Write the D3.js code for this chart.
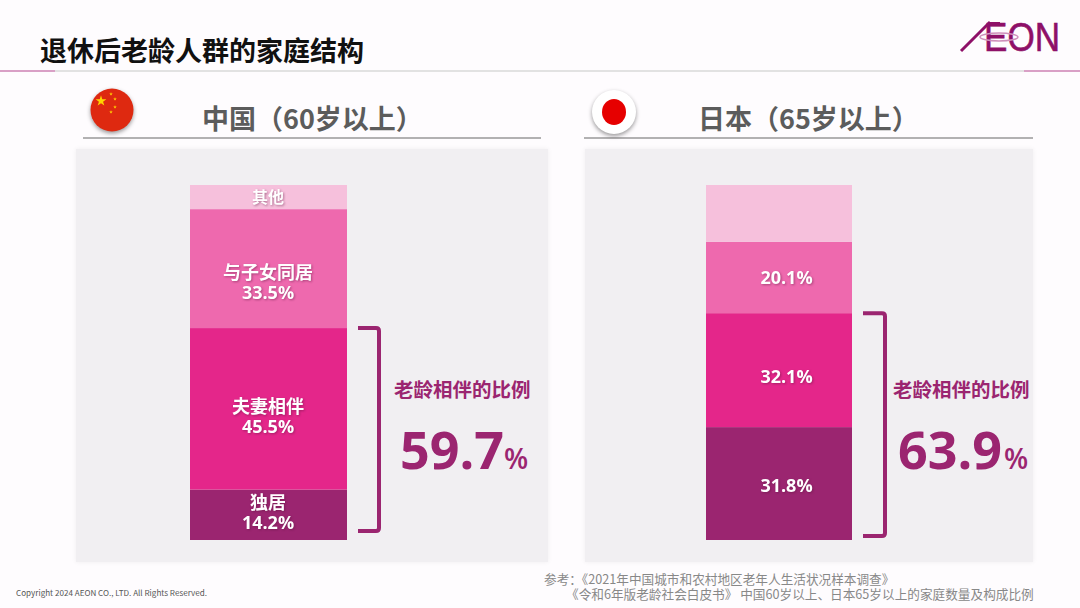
<!DOCTYPE html>
<html>
<head>
<meta charset="utf-8">
<script src="https://cdn.jsdelivr.net/npm/d3@7"></script>
<style>
  html, body { margin: 0; padding: 0; background: #fefcfe; }
  svg { display: block; }
  text { font-family: "Noto Sans CJK SC", "Open Sans", sans-serif; }
  .num { font-family: "Open Sans", "Noto Sans CJK SC", sans-serif; }
  .seg-label { fill: #fff; font-weight: 700; text-anchor: middle; filter: drop-shadow(1px 1px 1px rgba(90,20,60,.45)); }
</style>
</head>
<body>
<svg id="chart" width="1080" height="608"></svg>
<script>
// Data
const categories = ["独居", "夫妻相伴", "与子女同居", "其他"];
const chinaValues = [14.2, 45.5, 33.5, 6.8];
const japanValues = [31.8, 32.1, 20.1, 16.0];
const chinaNames = ["独居", "夫妻相伴", "与子女同居", "其他"];
const japanNames = ["", "", "", ""];
const chinaShown = ["14.2%", "45.5%", "33.5%", ""];
const japanShown = ["31.8%", "32.1%", "20.1%", ""];
const segColors = ["#9b2570", "#e4268a", "#ee69ae", "#f6c0dc"];
const accent = "#9b2570";

const svg = d3.select("#chart");

class StackedBar {

  constructor(_config, _values, _names, _shown) {
    this.config = _config;
    this.values = _values;
    this.names = _names;
    this.shown = _shown;
    this.initVis();
  }

  initVis() {
    let vis = this;
    let c = vis.config;

    vis.g = svg.append("g");

    // grey panel behind the bar
    vis.g.append("rect")
      .attr("x", c.panel[0]).attr("y", 149)
      .attr("width", c.panel[1] - c.panel[0]).attr("height", 413)
      .attr("fill", "#f1eff2")
      .style("filter", "drop-shadow(0 0 2px rgba(0,0,0,.06))");

    vis.g.append("line")
      .attr("x1", c.rule[0]).attr("x2", c.rule[1])
      .attr("y1", 138).attr("y2", 138)
      .attr("stroke", "#666").attr("stroke-width", 1);

    vis.g.append("text")
      .attr("x", c.titleX).attr("y", 129)
      .attr("font-size", 27).attr("font-weight", 700).attr("fill", "#5c5c5c")
      .text(c.title);

    vis.xScale = d3.scaleBand().domain(["total"]).range(c.bar);
    vis.yScale = d3.scaleLinear().domain([0, 100]).range([540, 185]);

    vis.renderVis();
  }

  renderVis() {
    let vis = this;
    let c = vis.config;

    const row = {};
    categories.forEach((k, i) => row[k] = vis.values[i]);
    const layers = d3.stack().keys(categories)([row]);

    vis.g.selectAll(".bar")
      .data(layers)
      .join("rect")
      .attr("class", "bar")
      .attr("x", vis.xScale("total"))
      .attr("width", vis.xScale.bandwidth())
      .attr("y", d => vis.yScale(d[0][1]))
      .attr("height", d => vis.yScale(d[0][0]) - vis.yScale(d[0][1]))
      .attr("fill", (d, i) => segColors[i]);

    const cx = vis.xScale("total") + vis.xScale.bandwidth() / 2 + c.labelShift;

    // name and share sit in one text, one line under the other
    layers.forEach((d, i) => {
      const name = vis.names[i];
      const share = vis.shown[i];
      if (!name && !share) return;
      const mid = vis.yScale((d[0][0] + d[0][1]) / 2);
      const label = vis.g.append("text").attr("class", "seg-label")
        .attr("x", cx).attr("y", mid + c.labelDy[i]);
      if (name) {
        label.append("tspan").attr("font-size", share ? 18 : 16).text(name);
      }
      if (share) {
        label.append("tspan").attr("class", "num")
          .attr("x", cx).attr("dy", name ? 20.5 : 0)
          .attr("font-size", 18).attr("font-weight", 700)
          .text(share);
      }
    });

    // bracket spanning the two lower segments
    const top = vis.yScale(vis.values[0] + vis.values[1]);
    const bottom = c.bracketBottom;
    const [bx0, bx1] = c.bracket;
    vis.g.append("path")
      .attr("d", `M${bx0},${top} H${bx1 - 3} Q${bx1},${top} ${bx1},${top + 3} V${bottom - 3} Q${bx1},${bottom} ${bx1 - 3},${bottom} H${bx0}`)
      .attr("fill", "none").attr("stroke", accent).attr("stroke-width", 4);

    vis.g.append("text")
      .attr("x", c.noteX).attr("y", 397)
      .attr("font-size", 19.5).attr("font-weight", 700).attr("fill", accent)
      .text("老龄相伴的比例");

    const big = vis.g.append("text").attr("class", "num")
      .attr("x", c.bigX).attr("y", 469)
      .attr("fill", accent).attr("font-weight", 700);
    big.append("tspan").attr("font-size", 52).text(c.total);
    big.append("tspan").attr("font-size", 28).attr("font-weight", 600).attr("dx", c.pctDx).text("%");
  }
}

// page header
svg.append("text").attr("x", 40).attr("y", 61)
  .attr("font-size", 27).attr("font-weight", 700).attr("fill", "#111")
  .text("退休后老龄人群的家庭结构");

svg.append("line").attr("x1", 0).attr("x2", 1080).attr("y1", 71).attr("y2", 71)
  .attr("stroke", "#e2e2e2").attr("stroke-width", 2);
svg.append("line").attr("x1", 0).attr("x2", 55).attr("y1", 71).attr("y2", 71)
  .attr("stroke", "#d9a0c6").attr("stroke-width", 2);
svg.append("line").attr("x1", 1024).attr("x2", 1080).attr("y1", 71).attr("y2", 71)
  .attr("stroke", "#d9a0c6").attr("stroke-width", 2);

// logo
const logoColor = "#8e1068";
const logo = svg.append("g");
logo.append("line").attr("x1", 961).attr("y1", 51).attr("x2", 990).attr("y2", 22)
  .attr("stroke", logoColor).attr("stroke-width", 3);
logo.append("line").attr("x1", 988).attr("y1", 23.5).attr("x2", 1000).attr("y2", 23.5)
  .attr("stroke", logoColor).attr("stroke-width", 3);
logo.append("text").attr("x", 984).attr("y", 51)
  .attr("font-size", 40).attr("fill", logoColor)
  .attr("stroke", logoColor).attr("stroke-width", 0.6)
  .attr("textLength", 76).attr("lengthAdjust", "spacingAndGlyphs")
  .style("font-family", "Liberation Sans")
  .text("EON");
logo.append("ellipse").attr("cx", 999).attr("cy", 37).attr("rx", 19).attr("ry", 4)
  .attr("fill", "none").attr("stroke", "#cf8fbb").attr("stroke-width", 1.5);

new StackedBar({
  panel: [76, 548], rule: [83, 541], title: "中国（60岁以上）", titleX: 202,
  bar: [190, 347], labelShift: -0.5, labelDy: [-6, 4, 10, 6],
  bracket: [358, 379], bracketBottom: 531,
  noteX: 394, bigX: 400, pctDx: 0, total: "59.7"
}, chinaValues, chinaNames, chinaShown);

new StackedBar({
  panel: [585, 1033], rule: [584, 1033], title: "日本（65岁以上）", titleX: 698,
  bar: [706, 852], labelShift: 7.5, labelDy: [8, 13, 7, 0],
  bracket: [863, 885], bracketBottom: 536,
  noteX: 893, bigX: 898, pctDx: 2, total: "63.9"
}, japanValues, japanNames, japanShown);

// flags
const flagShadow = "drop-shadow(0 2px 2px rgba(0,0,0,.4))";
svg.append("circle").attr("cx", 112).attr("cy", 110).attr("r", 21.5)
  .attr("fill", "#de2910").style("filter", flagShadow);
const stars = [[101, 101, 36], [111, 94, 4], [115, 99, 4], [115, 107, 4], [111, 112, 4]];
svg.selectAll(".star").data(stars).join("path")
  .attr("class", "star")
  .attr("transform", d => `translate(${d[0]},${d[1]})`)
  .attr("d", d => d3.symbol(d3.symbolStar, d[2])())
  .attr("fill", "#ffd400");

svg.append("circle").attr("cx", 614).attr("cy", 112).attr("r", 22)
  .attr("fill", "#fff").style("filter", flagShadow);
svg.append("ellipse").attr("cx", 614).attr("cy", 112).attr("rx", 12).attr("ry", 13)
  .attr("fill", "#e60000");

// footer
svg.append("text").attr("x", 16).attr("y", 596)
  .attr("font-size", 8.1).attr("fill", "#555")
  .text("Copyright 2024 AEON CO., LTD. All Rights Reserved.");
const refs = svg.append("text").attr("font-size", 12.65).attr("fill", "#888");
refs.append("tspan").attr("x", 544).attr("y", 584)
  .text("参考：《2021年中国城市和农村地区老年人生活状况样本调查》");
refs.append("tspan").attr("x", 566).attr("y", 598.5)
  .text("《令和6年版老龄社会白皮书》 中国60岁以上、日本65岁以上的家庭数量及构成比例");
</script>
</body>
</html>
